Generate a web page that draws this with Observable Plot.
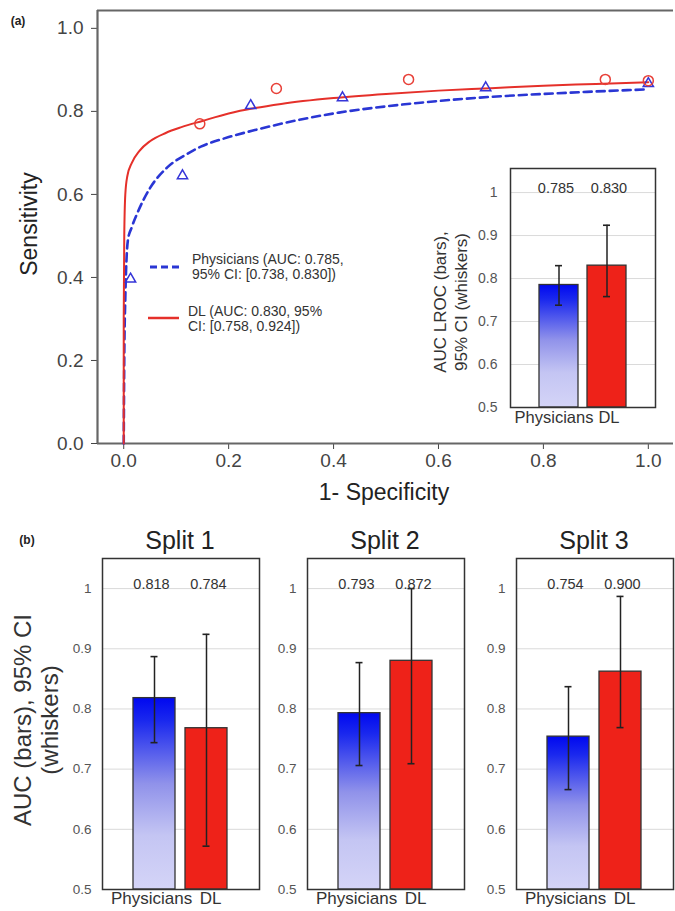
<!DOCTYPE html>
<html><head><meta charset="utf-8">
<script src="https://cdn.jsdelivr.net/npm/d3@7"></script>
<script src="https://cdn.jsdelivr.net/npm/@observablehq/plot@0.6"></script>
<style>
body{margin:0;background:#fff;font-family:"Liberation Sans",Arial,sans-serif;}
#root{position:relative;width:675px;height:911px;overflow:hidden;background:#fff;}
#root svg{position:absolute;}
.t{position:absolute;white-space:nowrap;color:#222;}
.c{transform:translate(-50%,-50%);text-align:center;}
.rot{transform:translate(-50%,-50%) rotate(-90deg);text-align:center;}
.plain{text-align:left;}
</style></head><body><div id="root"></div>
<script>
const FONT = '"Liberation Sans", Arial, sans-serif';

// ---- ROC curves (panel a) ----
const dlCurveFpr   = [0, 0.0, 0.001, 0.003, 0.007, 0.015, 0.03, 0.05, 0.08, 0.11, 0.15, 0.2, 0.25, 0.3, 0.4, 0.5, 0.6, 0.7, 0.8, 0.9, 1.0];
const dlCurveTpr   = [0, 0.3, 0.5, 0.6, 0.645, 0.675, 0.705, 0.728, 0.748, 0.762, 0.777, 0.795, 0.808, 0.818, 0.832, 0.842, 0.85, 0.856, 0.862, 0.866, 0.87];
const physCurveFpr = [0, 0.001, 0.003, 0.008, 0.015, 0.026, 0.05, 0.083, 0.12, 0.147, 0.2, 0.25, 0.34, 0.41, 0.5, 0.6, 0.7, 0.8, 0.9, 1.0];
const physCurveTpr = [0, 0.2, 0.35, 0.49, 0.52, 0.555, 0.615, 0.665, 0.697, 0.715, 0.738, 0.755, 0.781, 0.797, 0.812, 0.825, 0.835, 0.842, 0.848, 0.853];
const dlPointsFpr   = [0.145, 0.291, 0.543, 0.918, 1.0];
const dlPointsTpr   = [0.77, 0.855, 0.877, 0.877, 0.874];
const physPointsFpr = [0.013, 0.112, 0.242, 0.417, 0.69, 1.0];
const physPointsTpr = [0.396, 0.645, 0.814, 0.833, 0.857, 0.867];
const rocTicks = [0, 0.2, 0.4, 0.6, 0.8, 1.0];

// ---- AUC bars ----
const groups = ["Physicians", "DL"];
const overallAUC  = [0.785, 0.830];
const overallLow  = [0.738, 0.758];
const overallHigh = [0.830, 0.924];
const overallLabels = ["0.785", "0.830"];

const splitNames  = ["Split 1", "Split 2", "Split 3"];
const splitAUC    = [[0.818, 0.768], [0.793, 0.880], [0.754, 0.862]];
const splitLow    = [[0.744, 0.572], [0.706, 0.709], [0.666, 0.769]];
const splitHigh   = [[0.887, 0.924], [0.877, 1.000], [0.837, 0.987]];
const splitLabels = [["0.818", "0.784"], ["0.793", "0.872"], ["0.754", "0.900"]];
const barTicks = [0.5, 0.6, 0.7, 0.8, 0.9, 1];

const root = document.getElementById("root");
function place(node, left, top) { node.style.left = left + "px"; node.style.top = top + "px"; root.appendChild(node); }
function label(html, x, y, css, cls) {
  const d = document.createElement("div");
  d.className = "t " + (cls || "c");
  d.innerHTML = html;
  d.style.left = x + "px"; d.style.top = y + "px";
  d.style.cssText += css || "";
  root.appendChild(d);
}
function gradDefs(id) {
  return () => {
    const defs = d3.create("svg:defs");
    const g = defs.append("linearGradient").attr("id", id)
      .attr("x1", 0).attr("y1", 0).attr("x2", 0).attr("y2", 1);
    [[0, "#0008f0"], [0.12, "#1a28ee"], [0.45, "#9092ea"], [0.72, "#c4c5f3"], [1, "#d4d4f7"]]
      .forEach(([o, c]) => g.append("stop").attr("offset", o).attr("stop-color", c));
    return defs.node();
  };
}

// ---- Main ROC plot ----
const xDom = [-0.05, 1.048], yDom = [0, 1.043];
const dlCurve = dlCurveFpr.map((x, i) => ({x, y: dlCurveTpr[i]}));
const physCurve = physCurveFpr.map((x, i) => ({x, y: physCurveTpr[i]}));
const dlPts = dlPointsFpr.map((x, i) => ({x, y: dlPointsTpr[i]}));
const physPts = physPointsFpr.map((x, i) => ({x, y: physPointsTpr[i]}));

const main = Plot.plot({
  width: 675, height: 500,
  marginLeft: 97, marginRight: 2, marginTop: 10, marginBottom: 57,
  style: {background: "transparent", fontFamily: FONT, fontSize: "19px", color: "#444", overflow: "visible"},
  x: {domain: xDom, ticks: rocTicks, tickFormat: ".1f", tickSize: 6, tickPadding: 4, label: null},
  y: {domain: yDom, ticks: rocTicks, tickFormat: ".1f", tickSize: 6, tickPadding: 8, label: null},
  marks: [
    Plot.ruleY([yDom[0]], {stroke: "#666", strokeWidth: 2.2}),
    Plot.ruleY([yDom[1]], {stroke: "#666", strokeWidth: 2.2}),
    Plot.ruleX([xDom[0]], {stroke: "#666", strokeWidth: 2.2}),
    Plot.line(physCurve, {x: "x", y: "y", stroke: "#2a36d4", strokeWidth: 2.6, strokeDasharray: "8,5", curve: "monotone-x"}),
    Plot.line(dlCurve, {x: "x", y: "y", stroke: "#e5302a", strokeWidth: 2, curve: "monotone-x"}),
    Plot.dot(physPts, {x: "x", y: "y", symbol: "triangle", stroke: "#3535d8", r: 3.8, strokeWidth: 1.5}),
    Plot.dot(dlPts, {x: "x", y: "y", symbol: "circle", stroke: "#e84038", r: 5, strokeWidth: 1.5})
  ]
});
place(main, 0, 0);

// ---- bar panel builder ----
function barPanel({id, values, low, high, labels, frameW, frameH, mL, mT, mB, mR, valueDy, yTop, tickPad, xLabelDy, xFont, valFont, tickFont, capInset, physDx, dlDx}) {
  const data = groups.map((g, i) => ({g, v: values[i], lo: low[i], hi: high[i], label: labels[i], base: barTicks[0]}));
  const phys = data.filter(d => d.g === "Physicians");
  const dl = data.filter(d => d.g === "DL");
  return Plot.plot({
    width: mL + frameW + mR, height: mT + frameH + mB,
    marginLeft: mL, marginRight: mR, marginTop: mT, marginBottom: mB,
    style: {background: "transparent", fontFamily: FONT, fontSize: tickFont + "px", color: "#555", overflow: "visible"},
    x: {domain: groups, paddingInner: 0.19, paddingOuter: 0.58, axis: null},
    y: {domain: [barTicks[0], yTop], ticks: barTicks, tickFormat: d => d === 1 ? "1" : d.toFixed(1), tickSize: 0, tickPadding: tickPad, label: null},
    marks: [
      Plot.frame({fill: "white"}),
      Plot.ruleY(barTicks.slice(1), {stroke: "#dadada", strokeWidth: 1}),
      gradDefs(id),
      Plot.barY(phys, {x: "g", y1: "base", y2: "v", fill: `url(#${id})`, stroke: "#333", strokeWidth: 1.3}),
      Plot.barY(dl, {x: "g", y1: "base", y2: "v", fill: "#ee2219", stroke: "#333", strokeWidth: 1.3}),
      Plot.ruleX(data, {x: "g", y1: "lo", y2: "hi", stroke: "#222", strokeWidth: 1.5}),
      Plot.tickY(data, {x: "g", y: "lo", stroke: "#222", strokeWidth: 1.6, insetLeft: capInset, insetRight: capInset}),
      Plot.tickY(data, {x: "g", y: "hi", stroke: "#222", strokeWidth: 1.6, insetLeft: capInset, insetRight: capInset}),
      Plot.text(phys, {x: "g", text: "label", frameAnchor: "top", dy: valueDy, dx: -3, fontSize: valFont, fill: "#333"}),
      Plot.text(dl, {x: "g", text: "label", frameAnchor: "top", dy: valueDy, dx: 2, fontSize: valFont, fill: "#333"}),
      Plot.text(phys, {x: "g", text: "g", frameAnchor: "bottom", dy: xLabelDy, dx: physDx, fontSize: xFont, fill: "#333"}),
      Plot.text(dl, {x: "g", text: "g", frameAnchor: "bottom", dy: xLabelDy, dx: dlDx, fontSize: xFont, fill: "#333"}),
      Plot.frame({stroke: "#333", strokeWidth: 1.5})
    ]
  });
}

// inset
const inset = barPanel({id: "gradInset", values: overallAUC, low: overallLow, high: overallHigh, labels: overallLabels,
  frameW: 145, frameH: 239, mL: 70, mT: 8, mB: 25, mR: 5, valueDy: 14, yTop: 1.056, tickPad: 13,
  xLabelDy: 15, xFont: 16.5, valFont: 14.5, tickFont: 14, capInset: 16, physDx: -5, dlDx: 2});
place(inset, 440, 160);

// splits
const frameLefts = [102, 307, 516];
splitNames.forEach((name, k) => {
  const p = barPanel({id: "gradSplit" + k, values: splitAUC[k], low: splitLow[k], high: splitHigh[k], labels: splitLabels[k],
    frameW: 157, frameH: 331, mL: 45, mT: 38, mB: 22, mR: 2, valueDy: 20, yTop: 1.05, tickPad: 11,
    xLabelDy: 14, xFont: 17, valFont: 14.5, tickFont: 13.5, capInset: 17.5, physDx: -3, dlDx: 4});
  place(p, frameLefts[k] - 45, 520);
  label(name, frameLefts[k] + 78, 540, "font-size:25px;");
});

// ---- text annotations ----
label("(a)", 18, 21, "font-size:12px;font-weight:bold;");
label("(b)", 27, 540, "font-size:12px;font-weight:bold;");
label("Sensitivity", 29, 224, "font-size:23px;", "rot");
label("1- Specificity", 384, 492, "font-size:23px;");
label("AUC LROC (bars),<br>95% CI (whiskers)", 451, 302, "font-size:17px;line-height:21px;color:#333;", "rot");
label("AUC (bars), 95% CI<br>(whiskers)", 36, 720, "font-size:24px;line-height:27px;color:#333;", "rot");

// legend
function legendLine(x, y, color, dash) {
  const s = d3.create("svg").attr("width", 34).attr("height", 10).style("left", x + "px").style("top", (y - 5) + "px");
  s.append("line").attr("x1", 1).attr("y1", 5).attr("x2", 32).attr("y2", 5)
    .attr("stroke", color).attr("stroke-width", dash ? 3 : 2.5).attr("stroke-dasharray", dash || null);
  root.appendChild(s.node());
}
legendLine(149, 267, "#2a36d4", "7,4");
legendLine(147, 318, "#e5302a", null);
label("Physicians (AUC: 0.785,<br>95% CI: [0.738, 0.830])", 192, 252, "font-size:14px;line-height:15px;color:#333;", "plain");
label("DL (AUC: 0.830, 95%<br>CI: [0.758, 0.924])", 188, 304, "font-size:14px;line-height:15px;color:#333;", "plain");
</script></body></html>
